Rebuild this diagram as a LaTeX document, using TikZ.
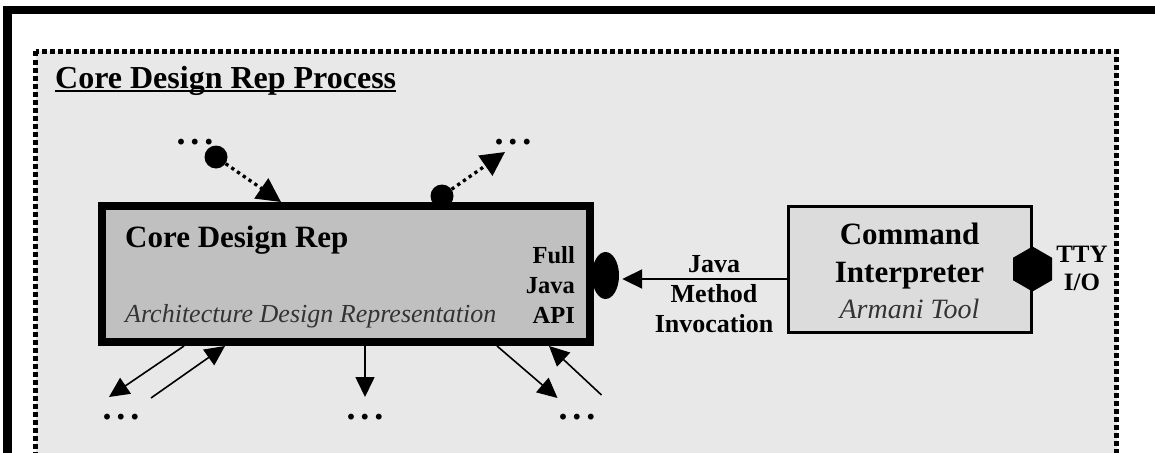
\documentclass[tikz,border=0pt]{standalone}
\usepackage{fontspec}
\setmainfont{Liberation Serif}
\usetikzlibrary{arrows.meta,shapes.geometric}
\definecolor{procgray}{HTML}{E8E8E8}
\definecolor{coregray}{HTML}{C0C0C0}
\definecolor{cigray}{HTML}{DCDCDC}
\definecolor{darktext}{HTML}{333333}
\tikzset{
  compbox/.style={draw,rectangle,inner sep=0pt},
  port/.style={fill=black,inner sep=0pt},
  lbl/.style={inner sep=0pt},
  etc/.style={inner sep=0pt,font=\fontsize{36}{36}\selectfont\bfseries},
  arr/.style={line width=1.6pt,-{Triangle[length=20pt,width=19pt]}},
  darr/.style={line width=3.3pt,dash pattern=on 3.3pt off 3.7pt,-{Triangle[length=24pt,width=24pt]}},
}
\newcommand{\etcdots}{.\kern5pt.\kern5pt.}
\begin{document}
\begin{tikzpicture}[x=1pt,y=-1pt]
  \useasboundingbox (0,0) rectangle (1155,452);
  \clip (0,0) rectangle (1155,452);
  % frames
  \draw[line width=8.5pt] (7.5,10) rectangle (1200,500);
  \draw[line width=5pt,dash pattern=on 5pt off 3pt,fill=procgray] (35.5,51.5) rectangle (1116.5,500);
  \node[lbl,anchor=base west,font=\fontsize{32}{38}\selectfont\bfseries] (title) at (55,88) {Core Design Rep Process};
  \draw[line width=1.5pt] ([yshift=-3pt]title.base west) -- ([yshift=-3pt]title.base east);
  % ports
  \node[port,circle,minimum size=23pt] (inport) at (216,157) {};
  \node[port,circle,minimum size=23pt] (outport) at (442,196) {};
  \node[port,ellipse,minimum width=27pt,minimum height=47pt] (apiport) at (605.5,275.5) {};
  % components
  \node[compbox,line width=8pt,fill=coregray,minimum width=488pt,minimum height=136pt] (core) at (346,274) {};
  \node[compbox,line width=3pt,fill=cigray,minimum width=243pt,minimum height=126pt] (cmdint) at (909.5,269) {};
  \node[port,regular polygon,regular polygon sides=6,minimum size=45pt,rotate=90] (ttyport) at (cmdint.east) {};
  % texts (multi-line nodes sit on their last baseline)
  \node[lbl,anchor=base west,font=\fontsize{31}{37}\selectfont\bfseries] (corename) at (125,247) {Core Design Rep};
  \node[lbl,anchor=base west,font=\fontsize{26}{30}\selectfont\itshape,text=darktext] (corestyle) at (125,322) {Architecture Design Representation};
  \node[lbl,anchor=base east,align=right,font=\fontsize{24.5}{30}\selectfont\bfseries] (apiname) at (575,323) {Full\\Java\\API};
  \node[lbl,anchor=base,align=center,font=\fontsize{31}{38}\selectfont\bfseries] (ciname) at (909.5,282) {Command\\Interpreter};
  \node[lbl,anchor=base,font=\fontsize{28}{30}\selectfont\itshape,text=darktext] (cistyle) at (909.5,318) {Armani Tool};
  \node[lbl,anchor=base,align=center,font=\fontsize{25}{28}\selectfont\bfseries] (ttyname) at (1082,290) {TTY\\I/O};
  \node[lbl,anchor=base,align=center,font=\fontsize{26}{30}\selectfont\bfseries] (jmi) at (714,332) {Java\\Method\\Invocation};
  % more elements
  \node[etc] (etcA) at (195,142) {\etcdots};
  \node[etc] (etcB) at (513,142) {\etcdots};
  \node[etc] (etcC) at (121,417) {\etcdots};
  \node[etc] (etcD) at (365,417) {\etcdots};
  \node[etc] (etcE) at (577,417) {\etcdots};
  \coordinate (outTip) at (505,152);
  \coordinate (lo1) at (109,397);
  \coordinate (li1) at (151,398);
  \coordinate (lo2) at (365,397);
  \coordinate (lo3) at (557.5,398);
  \coordinate (li3) at (601.5,395);
  \coordinate (jsrc) at ([yshift=-10pt]cmdint.west);
  % connectors
  \draw[darr] (inport) -- (281,0 |- core.north);
  \draw[darr] (outport) -- (outTip);
  \begin{scope}[arr]
    \draw (184,0 |- core.south) -- (lo1);
    \draw (li1) -- (225,0 |- core.south);
    \draw (365,0 |- core.south) -- (lo2);
    \draw (497,0 |- core.south) -- (lo3);
    \draw (li3) -- (549,0 |- core.south);
    \draw[line width=2pt,shorten >=3pt] (jsrc) -- (jsrc -| apiport.east);
  \end{scope}
\end{tikzpicture}
\end{document}
